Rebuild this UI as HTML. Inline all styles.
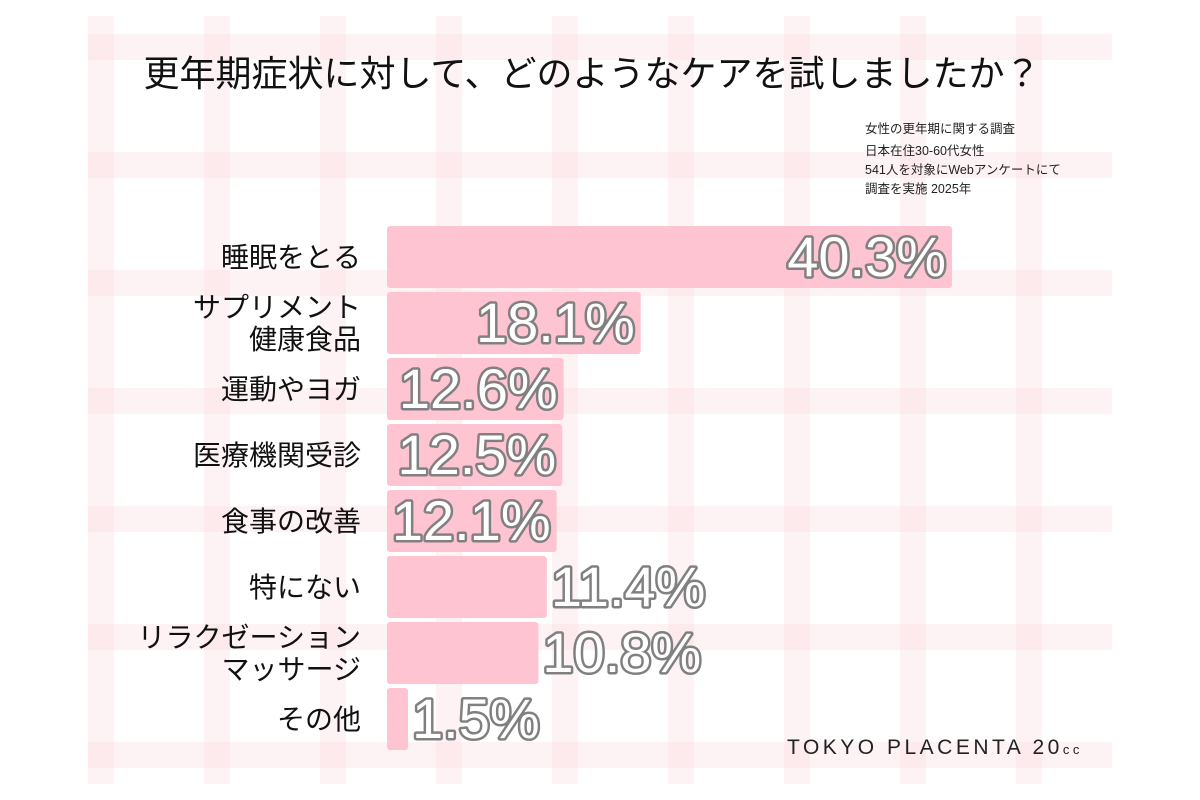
<!DOCTYPE html>
<html><head><meta charset="utf-8"><style>
html,body{margin:0;padding:0;background:#fff;width:1200px;height:800px;overflow:hidden}
svg text{font-family:"Liberation Sans","Noto Sans CJK JP",sans-serif}
</style></head><body>
<svg id="chart" width="1200" height="800" viewBox="0 0 1200 800" xmlns="http://www.w3.org/2000/svg">
<g id="bg"></g>
<text x="592" y="86" text-anchor="middle" font-size="36" fill="#111">更年期症状に対して、どのようなケアを試しましたか？</text>
<g font-size="12.5" fill="#222">
<text x="865" y="133">女性の更年期に関する調査</text>
<text x="865" y="155">日本在住30-60代女性</text>
<text x="865" y="174">541人を対象にWebアンケートにて</text>
<text x="865" y="193">調査を実施 2025年</text>
</g>
<g id="bars"></g>
<text x="787" y="754" font-size="21" letter-spacing="3.5" fill="#222">TOKYO PLACENTA 20<tspan font-size="13">cc</tspan></text>
</svg>
<script>
const categories = [["睡眠をとる"],["サプリメント","健康食品"],["運動やヨガ"],["医療機関受診"],["食事の改善"],["特にない"],["リラクゼーション","マッサージ"],["その他"]];
const values = [40.3,18.1,12.6,12.5,12.1,11.4,10.8,1.5];
const valueLabels = ["40.3%","18.1%","12.6%","12.5%","12.1%","11.4%","10.8%","1.5%"];
const insideFlags = [true,true,true,true,true,false,false,false];

const NS="http://www.w3.org/2000/svg";
const x0=387, pxPer=565/40.3, top0=226, pitch=66, bh=62;
function xScale(v){return v*pxPer;}
function yScale(i){return top0+i*pitch;}

const bg=document.getElementById('bg');
const panel=document.createElementNS(NS,'rect');
panel.setAttribute('x',88);panel.setAttribute('y',16);panel.setAttribute('width',1024);panel.setAttribute('height',768);panel.setAttribute('fill','#fff');


bg.appendChild(panel);
for(let x=88;x<1112;x+=116){
  const r=document.createElementNS(NS,'rect');
  r.setAttribute('x',x);r.setAttribute('y',16);r.setAttribute('width',26);r.setAttribute('height',768);r.setAttribute('fill','#f9dfe3');r.setAttribute('opacity','0.4');
  
  
  bg.appendChild(r);
}
for(let y=34;y<784;y+=118){
  const r=document.createElementNS(NS,'rect');
  r.setAttribute('x',88);r.setAttribute('y',y);r.setAttribute('width',1024);r.setAttribute('height',26);r.setAttribute('fill','#f9dfe3');r.setAttribute('opacity','0.4');
  
  
  bg.appendChild(r);
}

const g=document.getElementById('bars');
values.forEach((v,i)=>{
  const y=yScale(i), w=xScale(v);
  const r=document.createElementNS(NS,'rect');
  r.setAttribute('x',x0);r.setAttribute('y',y);r.setAttribute('width',w);r.setAttribute('height',bh);r.setAttribute('rx',3);r.setAttribute('fill','#ffc4d2');
  
  
  g.appendChild(r);
  const lines=categories[i];
  lines.forEach((s,j)=>{
    const t=document.createElementNS(NS,'text');
    const cy=y+bh/2+10+(lines.length===2?(j===0?-16:16):0);
    t.setAttribute('x',361);t.setAttribute('y',cy);t.setAttribute('text-anchor','end');t.setAttribute('font-size','28');t.setAttribute('fill','#111');
    t.textContent=s;
    
    
    g.appendChild(t);
  });
  const vt=document.createElementNS(NS,'text');
  const inside=insideFlags[i];
  vt.setAttribute('x',inside?x0+w-6:x0+w+4);
  vt.setAttribute('y',y+bh/2+19);
  vt.setAttribute('text-anchor',inside?'end':'start');
  vt.setAttribute('font-size','56');
  vt.setAttribute('fill','#fff');
  vt.setAttribute('stroke','#808080');
  vt.setAttribute('stroke-width','5');
  vt.setAttribute('stroke-linejoin','round');
  vt.setAttribute('paint-order','stroke');
  vt.textContent=valueLabels[i];
  
  
  g.appendChild(vt);
});
</script>
</body></html>
